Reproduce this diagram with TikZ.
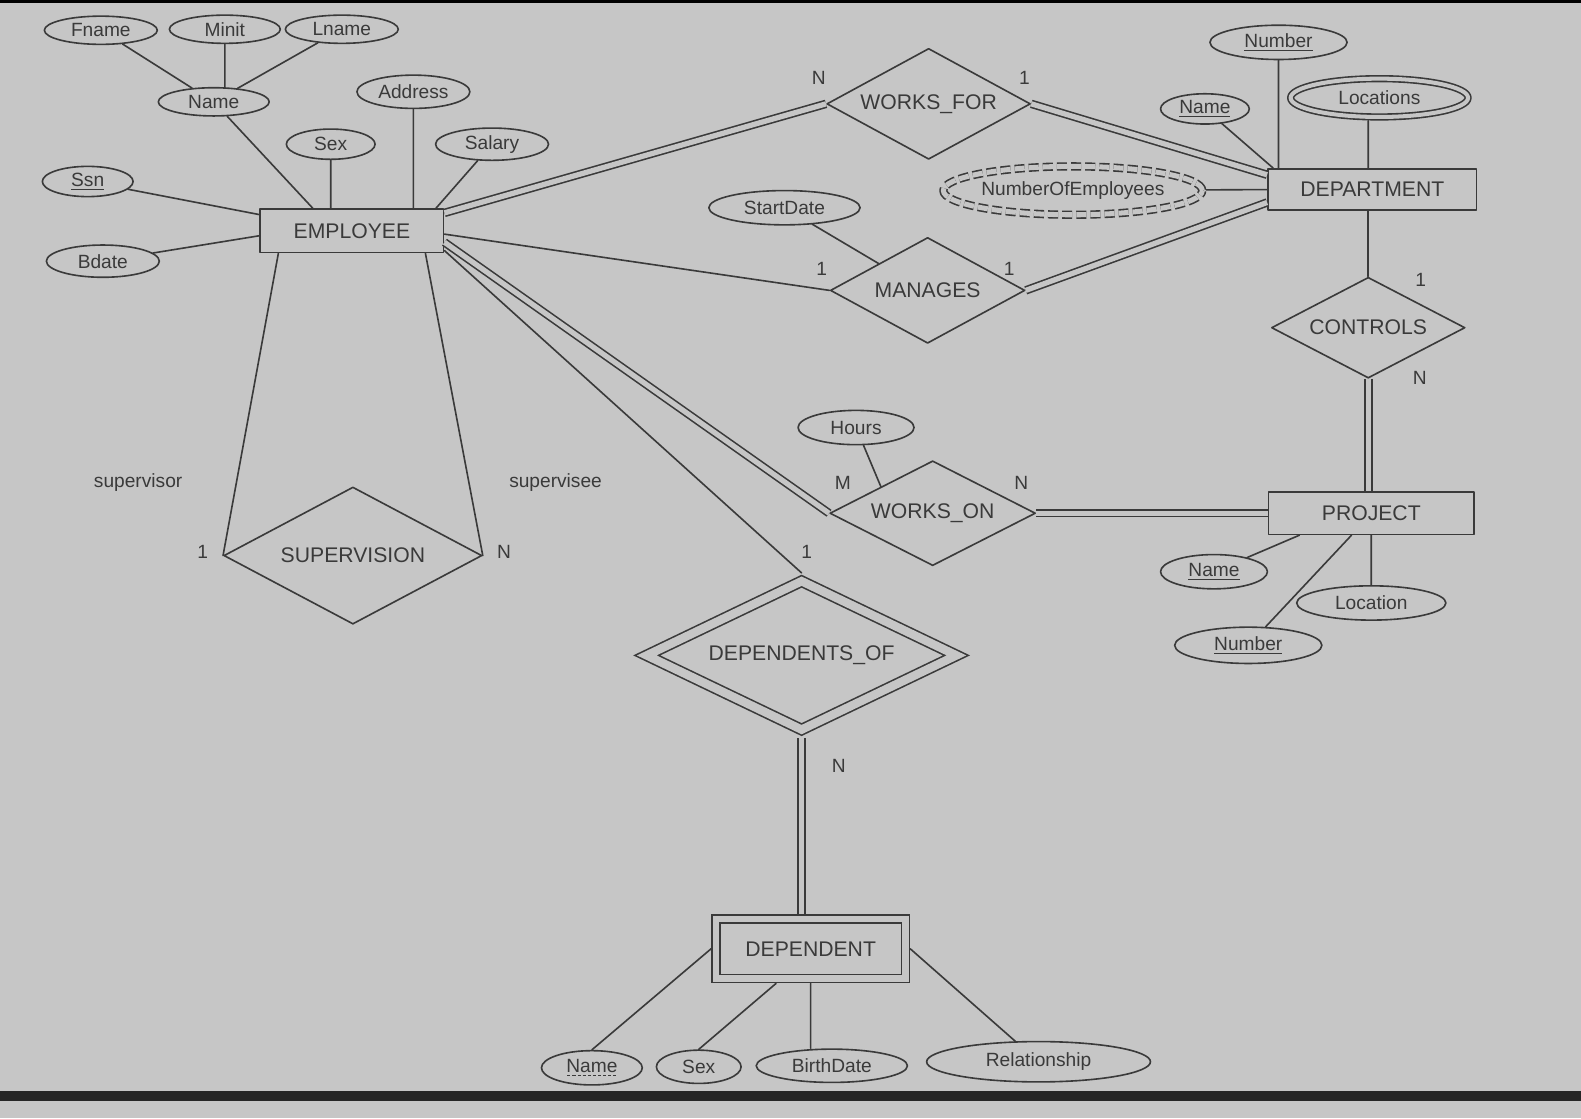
\documentclass[tikz,border=0pt]{standalone}
\usepackage{fontspec}
\setmainfont{Liberation Sans}
\usetikzlibrary{shapes.geometric}
\definecolor{bgc}{RGB}{198,198,198}
\definecolor{ink}{RGB}{58,58,58}
\newcommand{\erattr}{\fontsize{9.5}{11}\selectfont}
\newcommand{\erent}{\fontsize{10.5}{12}\selectfont}
\newcommand{\dashul}[1]{\setbox0\hbox{#1}\leavevmode\rlap{\lower1.8pt\hbox to\wd0{\xleaders\hbox to2.5pt{\hss\vrule width1.5pt height0.5pt\hss}\hfill}}\box0}

\begin{document}
\begin{tikzpicture}[x=0.5pt,y=-0.5pt,line join=round,line cap=round,font=\erattr,
		every node/.style={text=ink},
		ent/.style={draw=ink,line width=0.8pt,rectangle,inner sep=0pt,font=\erent},
		weak/.style={ent,double=bgc,double distance=3.2pt,line join=miter,outer sep=2.4pt},
		rel/.style={draw=ink,line width=0.8pt,diamond,aspect=1.9,inner sep=0pt,font=\erent},
		idrel/.style={rel,double=bgc,double distance=4.2pt,line join=miter,outer sep=2.9pt},
		attr/.style={draw=ink,line width=0.8pt,ellipse,inner sep=0pt},
		multi/.style={attr,double=bgc,double distance=2pt,outer sep=1.8pt},
		derived/.style={multi,line cap=butt,dash pattern=on 5pt off 2pt,double distance=2.5pt,outer sep=2pt},
		card/.style={inner sep=0pt},
		conn/.style={draw=ink,line width=0.8pt},
		dbl/.style={conn,double=bgc,double distance=2.6pt,line cap=butt}]
	% background and frame bands
	\fill[bgc] (0,0) rectangle (1568,1109);
	\fill[black] (0,0) rectangle (1568,3);
	\fill[black!85] (0,1082) rectangle (1568,1092);
	% entities
	\node[ent,minimum width=91pt,minimum height=21.5pt] (emp) at (349,229) {EMPLOYEE};
	\node[ent,minimum width=103.5pt,minimum height=20.5pt] (dept) at (1361,188) {DEPARTMENT};
	\node[ent,minimum width=102pt,minimum height=21pt] (proj) at (1360,509) {PROJECT};
	\node[weak,minimum width=94pt,minimum height=29.5pt] (dep) at (804,941) {DEPENDENT};
	% relationships
	\node[rel,minimum width=101pt,minimum height=55pt] (wf) at (921,103) {WORKS\_FOR};
	\node[rel,minimum width=96.5pt,minimum height=52.5pt] (man) at (920,288) {MANAGES};
	\node[rel,minimum width=96pt,minimum height=50pt] (ctrl) at (1357,325) {CONTROLS};
	\node[rel,minimum width=102pt,minimum height=52pt] (won) at (925,509) {WORKS\_ON};
	\node[rel,minimum width=128pt,minimum height=68pt] (sup) at (350,551) {SUPERVISION};
	\node[idrel,minimum width=156pt,minimum height=76pt] (dof) at (795,650) {DEPENDENTS\_OF};
	% attributes of EMPLOYEE
	\node[attr,minimum width=56pt,minimum height=14pt] (fname) at (100,30) {Fname};
	\node[attr,minimum width=55pt,minimum height=14pt] (minit) at (223,29) {Minit};
	\node[attr,minimum width=56pt,minimum height=14pt] (lname) at (339,29) {Lname};
	\node[attr,minimum width=55pt,minimum height=14pt] (ename) at (212,101) {Name};
	\node[attr,minimum width=56pt,minimum height=16.5pt] (addr) at (410,91) {Address};
	\node[attr,minimum width=44pt,minimum height=15pt] (esex) at (328,143) {Sex};
	\node[attr,minimum width=56pt,minimum height=16pt] (salary) at (488,143) {Salary};
	\node[attr,minimum width=45pt,minimum height=15pt] (ssn) at (87,180) {\underline{Ssn}};
	\node[attr,minimum width=56pt,minimum height=16pt] (bdate) at (102,259) {Bdate};
	% attributes of DEPARTMENT
	\node[attr,minimum width=68pt,minimum height=17pt] (dnum) at (1268,42) {\underline{Number}};
	\node[attr,minimum width=44pt,minimum height=15pt] (dname) at (1195,108) {\underline{Name}};
	\node[multi,minimum width=88pt,minimum height=19pt] (locs) at (1368,97) {Locations};
	\node[derived,minimum width=128pt,minimum height=24pt] (noe) at (1064,189) {NumberOfEmployees};
	% attributes of relationships
	\node[attr,minimum width=75pt,minimum height=17pt] (start) at (778,206) {StartDate};
	\node[attr,minimum width=57.5pt,minimum height=17pt] (hours) at (849,424) {Hours};
	% attributes of PROJECT
	\node[attr,minimum width=53pt,minimum height=17pt] (pname) at (1204,567) {\underline{Name}};
	\node[attr,minimum width=74pt,minimum height=17pt] (ploc) at (1360,598) {Location};
	\node[attr,minimum width=73pt,minimum height=18pt] (pnum) at (1238,640) {\underline{Number}};
	% attributes of DEPENDENT
	\node[attr,minimum width=50pt,minimum height=17pt] (qname) at (587,1059) {\dashul{Name}};
	\node[attr,minimum width=42pt,minimum height=16.5pt] (qsex) at (693,1058) {Sex};
	\node[attr,minimum width=75pt,minimum height=16.5pt] (qbirth) at (825,1057) {BirthDate};
	\node[attr,minimum width=111pt,minimum height=20pt] (qrel) at (1030,1053) {Relationship};
	% cardinalities and roles
	\node[card] (c1) at (812,77) {N};
	\node[card] (c2) at (1016,77) {1};
	\node[card] (c3) at (815,267) {1};
	\node[card] (c4) at (1001,267) {1};
	\node[card] (c5) at (1409,278) {1};
	\node[card] (c6) at (1408,375) {N};
	\node[card] (c7) at (836,479) {M};
	\node[card] (c8) at (1013,479) {N};
	\node[card] (c9) at (800,547) {1};
	\node[card] (c10) at (832,760) {N};
	\node[card] (c11) at (201,547) {1};
	\node[card] (c12) at (500,547) {N};
	\node (rsor) at (137,479) {supervisor};
	\node (rsee) at (551,479) {supervisee};
	% attribute lines
	\draw[conn] (fname) -- (ename) (lname) -- (ename) (minit) -- (minit |- ename.north)
		(ename) -- (emp.150) (esex) -- (esex |- emp.north) (addr) -- (addr |- emp.north)
		(salary) -- (emp.15) (ssn) -- (emp.170) (bdate) -- (emp.183);
	\draw[conn] (dnum) -- (dnum |- dept.north) (dname) -- ([xshift=3pt]dept.north west)
		(locs.south -| ctrl.north) -- (ctrl.north |- dept.north) (noe) -- (dept.west);
	\draw[conn] (start) -- (man.north west) (hours) -- (won.north west);
	\draw[conn] (pname) -- (proj.197) (ploc) -- (ploc |- proj.south) (pnum) -- (proj.228);
	\draw[conn] (qname.north) -- (dep.west) (qsex.north) -- (dep.225)
		(dep.south) -- (dep.south |- qbirth.north) (qrel) -- (dep.east);
	% relationship lines
	\draw[conn] (emp.197) -- (sup.west) (emp.-17) -- (sup.east);
	\draw[conn] (emp.-2) -- (man.west) (emp.-12) -- (dof.north);
	\draw[conn] (ctrl.north |- dept.south) -- (ctrl.north);
	\draw[dbl] (emp.11) -- (wf.west);
	\draw[dbl] (wf.east) -- (dept.172);
	\draw[dbl] (man.east) -- (dept.187);
	\draw[dbl] (emp.-7) -- (won.west);
	\draw[dbl] (won.east) -- (proj.west);
	\draw[dbl] (ctrl.south) -- (ctrl.south |- proj.north);
	\draw[dbl] (dof.south) -- (dof.south |- dep.north);
\end{tikzpicture}
\end{document}
